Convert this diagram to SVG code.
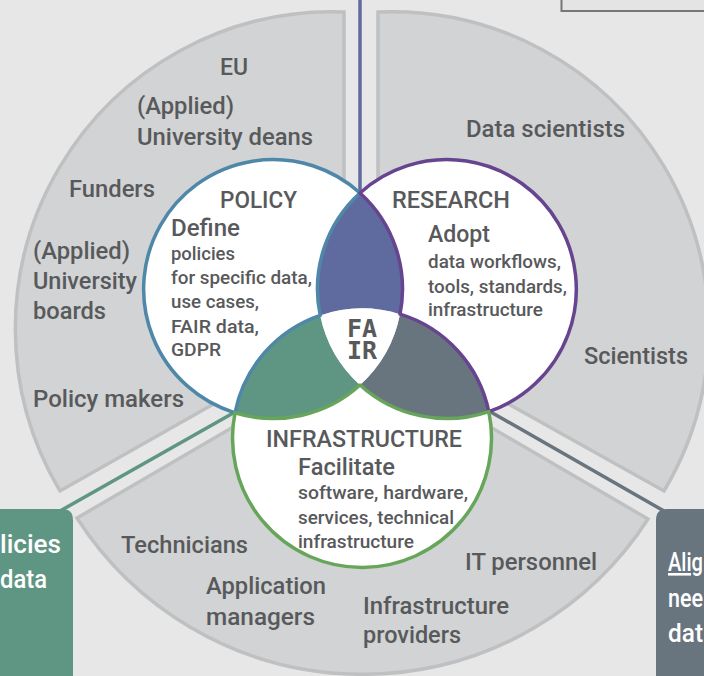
<svg xmlns="http://www.w3.org/2000/svg" width="704" height="676" viewBox="0 0 704 676">
<style>
text{font-family:"Roboto","Liberation Sans",sans-serif;fill:#58595b;font-weight:500}
.l{font-size:24px}.m{font-size:24px}.s{font-size:18px}
.b{font-size:26px;fill:#fff}
.sec{fill:#d1d3d4;stroke:#bfc0c1;stroke-width:3.5;stroke-linejoin:miter}
.crescent{fill:#fff;stroke-width:3.5;stroke-linejoin:round}
.logo{font-family:"DejaVu Sans Mono",monospace;font-weight:700;font-size:25px}
</style>
<rect width="704" height="676" fill="#e7e7e7"/>
<g id="top-box"><rect x="561.500" y="-10" width="160" height="21" fill="#e4e4e4" stroke="#777" stroke-width="2"/></g>
<g id="sector-policy">
<path class="sec" d="M344 12L344 330L60 491A317 317 0 0 1 344 12Z"/>
<text class="l" x="220" y="75" textLength="28" lengthAdjust="spacingAndGlyphs">EU</text>
<text class="l" x="137" y="114" textLength="97" lengthAdjust="spacingAndGlyphs">(Applied)</text>
<text class="l" x="137" y="145" textLength="176" lengthAdjust="spacingAndGlyphs">University deans</text>
<text class="l" x="69" y="197" textLength="86" lengthAdjust="spacingAndGlyphs">Funders</text>
<text class="l" x="33" y="259" textLength="97" lengthAdjust="spacingAndGlyphs">(Applied)</text>
<text class="l" x="33" y="289" textLength="104" lengthAdjust="spacingAndGlyphs">University</text>
<text class="l" x="33" y="319" textLength="73" lengthAdjust="spacingAndGlyphs">boards</text>
<text class="l" x="33" y="407" textLength="151" lengthAdjust="spacingAndGlyphs">Policy makers</text>
</g>
<g id="sector-research">
<path class="sec" d="M378 12L378 331L664 491A317 317 0 0 0 378 12Z"/>
<text class="l" x="466" y="137" textLength="159" lengthAdjust="spacingAndGlyphs">Data scientists</text>
<text class="l" x="584" y="364" textLength="104" lengthAdjust="spacingAndGlyphs">Scientists</text>
</g>
<g id="sector-infrastructure">
<path class="sec" d="M77 518L362 352L648 519A339.500 339.500 0 0 1 77 518Z"/>
<text class="l" x="121" y="553" textLength="127" lengthAdjust="spacingAndGlyphs">Technicians</text>
<text class="l" x="206" y="594" textLength="120" lengthAdjust="spacingAndGlyphs">Application</text>
<text class="l" x="206" y="625" textLength="109" lengthAdjust="spacingAndGlyphs">managers</text>
<text class="l" x="363" y="614" textLength="146" lengthAdjust="spacingAndGlyphs">Infrastructure</text>
<text class="l" x="363" y="643" textLength="98" lengthAdjust="spacingAndGlyphs">providers</text>
<text class="l" x="465" y="570" textLength="132" lengthAdjust="spacingAndGlyphs">IT personnel</text>
</g>
<g id="connectors" fill="none" stroke-width="3.500">
<path d="M360 0V193" stroke="#5f6a9e"/>
<path d="M235 412L60 511" stroke="#5f9683"/>
<path d="M489 411L664 511" stroke="#68757f"/>
</g>
<g id="box-left">
<path d="M-10 509H62Q73 509 73 520V686H-10Z" fill="#5f9683"/>
<text class="b" x="0" y="553" textLength="61" lengthAdjust="spacingAndGlyphs">licies</text>
<text class="b" x="0" y="588" textLength="47" lengthAdjust="spacingAndGlyphs">data</text>
</g>
<g id="box-right">
<path d="M714 509H667Q656 509 656 520V686H714Z" fill="#68757f"/>
<text class="b" x="668" y="571" text-decoration="underline" textLength="35" lengthAdjust="spacingAndGlyphs">Alig</text>
<text class="b" x="668" y="607" textLength="35" lengthAdjust="spacingAndGlyphs">nee</text>
<text class="b" x="668" y="642" textLength="35" lengthAdjust="spacingAndGlyphs">dat</text>
</g>
<g id="lens-policy-research"><path d="M360 193A129.500 129.500 0 0 0 320.200 315.400A129.500 129.500 0 0 1 400 314.200A129.500 129.500 0 0 0 360 193Z" fill="#5f6a9e"/></g>
<g id="lens-policy-infrastructure"><path d="M235 412.800A129.500 129.500 0 0 1 320.200 315.400A129.500 129.500 0 0 0 360 385A129.500 129.500 0 0 1 235 412.800Z" fill="#5f9683"/></g>
<g id="lens-research-infrastructure"><path d="M400 314.200A129.500 129.500 0 0 1 488.800 411.600A129.500 129.500 0 0 1 360 385A129.500 129.500 0 0 0 400 314.200Z" fill="#68757f"/></g>
<g id="fair">
<path d="M320.200 315.400A129.500 129.500 0 0 1 400 314.200A129.500 129.500 0 0 1 360 385A129.500 129.500 0 0 1 320.200 315.400Z" fill="#fff"/>
<text class="logo"><tspan x="347" y="337">FA</tspan><tspan x="347" y="359">IR</tspan></text>
</g>
<g id="policy">
<path class="crescent" stroke="#4f87a8" d="M360 193A129.500 129.500 0 1 0 235 412.800A129.500 129.500 0 0 1 320.200 315.400A129.500 129.500 0 0 1 360 193Z"/>
<text class="m" x="220" y="208" textLength="77" lengthAdjust="spacingAndGlyphs">POLICY</text>
<text class="m" x="171" y="236" textLength="69" lengthAdjust="spacingAndGlyphs">Define</text>
<text class="s" x="171" y="260" textLength="64" lengthAdjust="spacingAndGlyphs">policies</text>
<text class="s" x="171" y="284" textLength="141" lengthAdjust="spacingAndGlyphs">for specific data,</text>
<text class="s" x="171" y="308" textLength="88" lengthAdjust="spacingAndGlyphs">use cases,</text>
<text class="s" x="171" y="333" textLength="88" lengthAdjust="spacingAndGlyphs">FAIR data,</text>
<text class="s" x="171" y="356" textLength="50" lengthAdjust="spacingAndGlyphs">GDPR</text>
</g>
<g id="research">
<path class="crescent" stroke="#67448f" d="M360 193A129.500 129.500 0 0 1 400 314.200A129.500 129.500 0 0 1 488.800 411.600A129.500 129.500 0 1 0 360 193Z"/>
<text class="m" x="392" y="208" textLength="118" lengthAdjust="spacingAndGlyphs">RESEARCH</text>
<text class="m" x="428" y="242" textLength="62" lengthAdjust="spacingAndGlyphs">Adopt</text>
<text class="s" x="428" y="268" textLength="133" lengthAdjust="spacingAndGlyphs">data workflows,</text>
<text class="s" x="428" y="293" textLength="139" lengthAdjust="spacingAndGlyphs">tools, standards,</text>
<text class="s" x="428" y="316" textLength="115" lengthAdjust="spacingAndGlyphs">infrastructure</text>
</g>
<g id="infrastructure">
<path class="crescent" stroke="#67a65a" d="M235 412.800A129.500 129.500 0 0 0 360 385A129.500 129.500 0 0 0 488.800 411.600A129.500 129.500 0 1 1 235 412.800Z"/>
<text class="m" x="266" y="447" textLength="196" lengthAdjust="spacingAndGlyphs">INFRASTRUCTURE</text>
<text class="m" x="298" y="475" textLength="97" lengthAdjust="spacingAndGlyphs">Facilitate</text>
<text class="s" x="298" y="499" textLength="170" lengthAdjust="spacingAndGlyphs">software, hardware,</text>
<text class="s" x="298" y="524" textLength="156" lengthAdjust="spacingAndGlyphs">services, technical</text>
<text class="s" x="298" y="548" textLength="116" lengthAdjust="spacingAndGlyphs">infrastructure</text>
</g>
</svg>
